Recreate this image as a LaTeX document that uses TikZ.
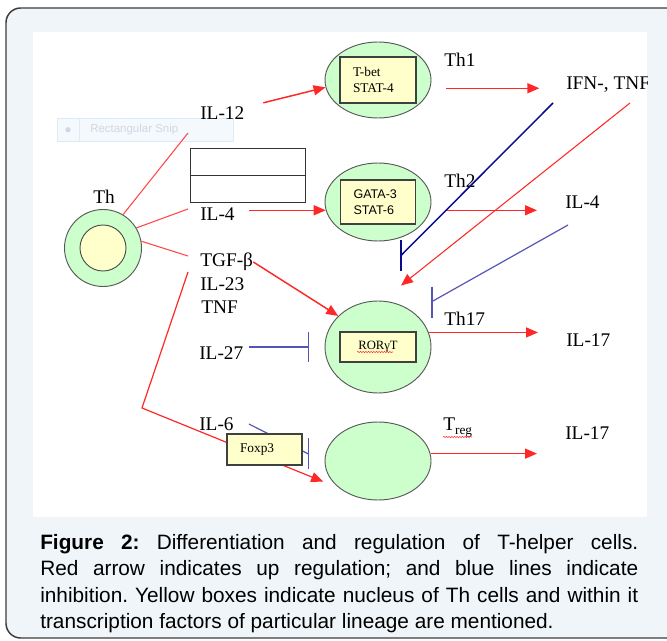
\documentclass[tikz,border=0pt]{standalone}
\usepackage{fontspec}
\setmainfont{Liberation Serif}
\newfontfamily\capfont{Liberation Sans}
\usetikzlibrary{shapes.geometric,arrows.meta,calc,decorations.pathmorphing}

\definecolor{cellgreen}{RGB}{204,255,204}
\definecolor{nucyellow}{RGB}{255,255,204}
\definecolor{upred}{RGB}{255,40,40}
\definecolor{inhnavy}{RGB}{10,10,140}
\definecolor{inhslate}{RGB}{85,85,185}
\definecolor{panelblue}{RGB}{239,245,249}
\definecolor{framegray}{RGB}{60,60,60}
\definecolor{snipgray}{RGB}{208,215,224}
\definecolor{snipline}{RGB}{222,234,246}
\definecolor{snipfill}{RGB}{244,249,253}

\tikzset{
  cell/.style={ellipse,draw=black!65,fill=cellgreen,line width=0.7pt,inner sep=0pt,minimum width=79.5pt},
  tf/.style={draw=black!75,fill=nucyellow,line width=0.9pt,inner sep=0pt,inner xsep=9.75pt},
  lbl/.style={anchor=west,inner sep=0pt,font=\fontsize{14.5}{16}\selectfont},
  up/.style={draw=upred,line width=1.1pt,-{Triangle[length=9pt,width=7.5pt]}},
  feed/.style={draw=upred!85,line width=0.8pt},
  inhib/.style={line width=0.9pt},
  spell/.style={draw=red!80,line width=0.4pt,decorate,decoration={snake,amplitude=0.5pt,segment length=2pt}},
}

\begin{document}
\frenchspacing
\begin{tikzpicture}[x=0.75pt,y=0.75pt,yscale=-1,xscale=1]
\useasboundingbox (0,0) rectangle (667,641);

%Panel
\draw[framegray, fill=panelblue, line width=1.1pt, rounded corners=11pt] (6,8) rectangle (700,638);
\fill[white] (33,32) rectangle (647,517);

\begin{scope}
\clip (33,32) rectangle (647,517);

%Snip tag
\node[draw=snipline, fill=snipfill, minimum width=132pt, minimum height=17.25pt, inner sep=0pt, anchor=north west] (snip) at (57,118) {};
\draw[snipline] ([shift={(22,0)}]snip.north west) -- ([shift={(22,0)}]snip.south west);
\fill[snipgray] ([shift={(11,0)}]snip.west) circle (2pt);
\node[anchor=west, inner sep=0pt, text=snipgray, font=\capfont\fontsize{8.6}{10}\selectfont] (sniptext) at ([shift={(33,0)}]snip.west) {Rectangular Snip};

%Th cell
\node[circle, draw=black!65, fill=cellgreen, line width=0.7pt, minimum size=57.75pt, inner sep=0pt] (th) at (103,248) {};
\node[circle, draw=black!70, fill=nucyellow, line width=0.7pt, minimum size=34.5pt, inner sep=0pt] (thnuc) at (th) {};
\node[lbl, anchor=center] (thlbl) at (104,197) {Th};

%Blank box
\node[draw=black!80, line width=0.7pt, minimum width=86.25pt, minimum height=40.5pt, inner sep=0pt, anchor=north west] (blank) at (190,148) {};
\draw[black!80, line width=0.7pt] (blank.west) -- (blank.east);

%Lineages
\node[cell, minimum height=57pt] (th1) at (378,80) {};
\node[cell, minimum height=58.5pt] (th2) at (378,202) {};
\node[cell, minimum height=69pt] (th17) at (378,347) {};
\node[cell, minimum height=58.5pt] (treg) at (378,461) {};

\node[tf, minimum width=57pt, minimum height=34.5pt, text width=37.5pt, align=left, font=\fontsize{10}{11.5}\selectfont] (tbet) at (th1) {T-bet\\STAT-4};
\node[tf, minimum width=56.25pt, minimum height=33pt, text width=36.75pt, align=left, font=\capfont\fontsize{9.4}{12}\selectfont] (gata) at (th2) {GATA-3\\STAT-6};
\node[tf, minimum width=57pt, minimum height=22.5pt, text width=37.5pt, align=center, font=\fontsize{9.5}{11}\selectfont] (ror) at (th17) {RORγT};

% Text Node
\node[lbl] (il12) at (200,113) {IL-12};
\node[lbl] (il4) at (200,214) {IL-4};
\node[lbl] (tgf) at (200,262) {TGF-β};
\node[lbl] (il23) at (200,284) {IL-23};
\node[lbl] (tnf) at (201,307) {TNF};
\node[lbl] (il27) at (199,353) {IL-27};
\node[lbl] (il6) at (199,424) {IL-6};
\node[lbl] (th1lbl) at (444,60) {Th1};
\node[lbl] (th2lbl) at (444,181) {Th2};
\node[lbl] (th17lbl) at (444,319) {Th17};
\node[lbl] (treglbl) at (443,428) {T\raisebox{-3pt}{\fontsize{10}{12}\selectfont reg}};
\node[lbl] (ifn) at (566,85) {IFN-, TNF};
\node[lbl] (il4r) at (565,202) {IL-4};
\node[lbl] (il17a) at (566,340) {IL-17};
\node[lbl] (il17b) at (565,433) {IL-17};

%Th to cytokines
\draw[feed] (th.59) -- ([shift={(-12,20)}]il12.west);
\draw[feed] (th.31) -- ([shift={(-12,-5)}]il4.west);
\draw[feed] (th.10) -- ([shift={(-12,-6)}]tgf.west);
\coordinate (bend) at (142,408);
\draw[up, line width=0.9pt, shorten >=13pt] ([shift={(-12,-12)}]il23.west) -- (bend) -- (treg.215);

%Up regulation
\draw[up, shorten <=14.5pt] (il12) -- (th1.188);
\draw[up, shorten <=12pt, shorten >=20pt] (th1.351) -- (th1.351 -| ifn.west);
\draw[up, shorten <=10.5pt] (il4.east |- th2.189) -- (th2.189);
\draw[up, shorten <=12pt, shorten >=21pt] (th2.351) -- (th2.351 -| il4r.west);
\draw[up] (tgf.east) -- (th17.142);
\draw[up, shorten >=21pt] (th17.16) -- (th17.16 -| il17a.west);
\draw[up, shorten >=21pt] (treg.8) -- (treg.8 -| il17b.west);
\coordinate (redend) at ($(th17.north)+(23,-15)$);
\draw[up, line width=0.8pt] ([shift={(64,18)}]ifn.west) -- (redend);

%Inhibition
\coordinate (navyend) at ($(th2.south)+(23,14)$);
\draw[inhnavy, line width=1.1pt] ([shift={(-13,18)}]ifn.west) -- (navyend);
\draw[inhnavy, line width=1.1pt] (navyend) ++(0,-15) -- ++(0,31);
\coordinate (slateend) at ($(th17.north)+(54,1)$);
\draw[inhslate, inhib] ([shift={(3,23)}]il4r.west) -- (slateend);
\draw[inhslate, inhib] (slateend) ++(0,-15) -- ++(0,31);
\coordinate (il27bar) at ($(th17.west)+(-16,0)$);
\draw[inhslate, inhib] ([shift={(5,-6)}]il27.east) -- (il27bar);
\draw[inhslate, inhib] (il27bar) ++(0,-15) -- ++(0,30);
\coordinate (il6bar) at ($(treg.west)+(-16,-7)$);
\draw[inhslate, inhib] ([shift={(15,0)}]il6.east) -- (il6bar);
\draw[inhslate, inhib] (il6bar) ++(0,-16) -- ++(0,31);

%Foxp3
\node[tf, minimum width=56.25pt, minimum height=23.25pt, text width=36.75pt, align=left, font=\fontsize{10}{11.5}\selectfont] (foxp3) at (264.5,449.5) {Foxp3};

%Spell marks
\draw[spell] ([shift={(-21,5)}]ror.center) -- ([shift={(15,5)}]ror.center);
\draw[spell] ([shift={(0,9)}]treglbl.west) -- ([shift={(29,9)}]treglbl.west);
\end{scope}

%Caption
\node[anchor=north west, inner sep=0pt, text width=448.5pt, align=justify, font=\capfont\fontsize{15.6}{19.8}\selectfont] (caption) at (40,534) {\fontsize{15.6}{19.8}\selectfont\textbf{Figure 2:} Differentiation and regulation of T-helper cells.\linebreak Red arrow indicates up regulation; and blue lines indicate\linebreak inhibition. Yellow boxes indicate nucleus of Th cells and within it\linebreak transcription factors of particular lineage are mentioned.};

\end{tikzpicture}
\end{document}
